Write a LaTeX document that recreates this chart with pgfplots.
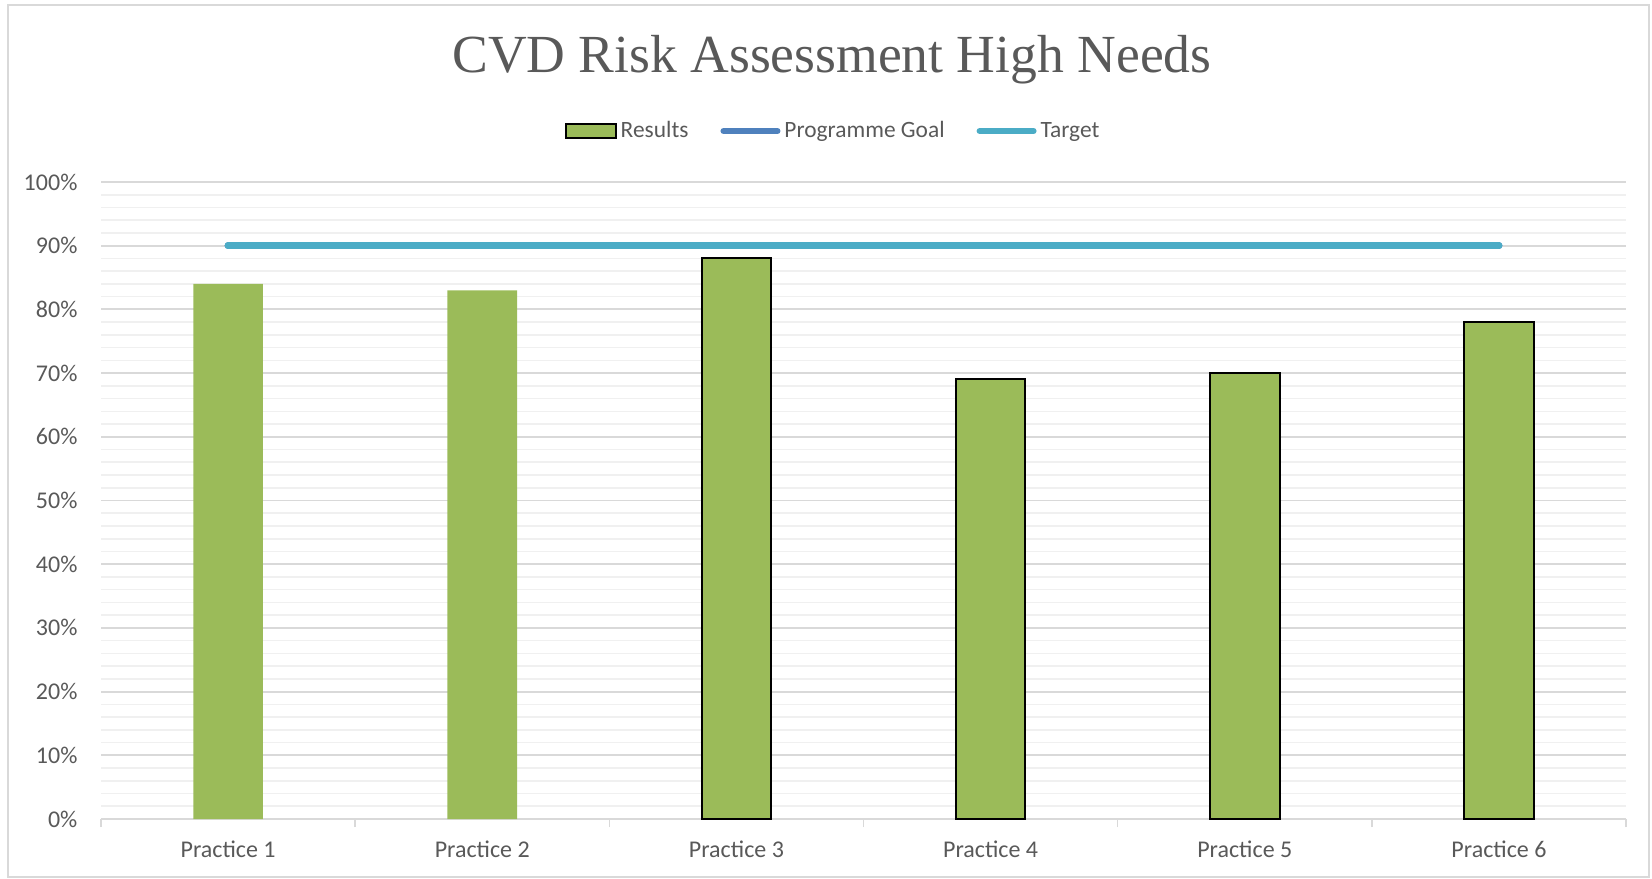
\documentclass[border=0pt]{standalone}
\usepackage{pgfplots}
\pgfplotsset{compat=1.18}
\usepackage{fontspec}
\setmainfont{Carlito}
\newfontfamily\titlefont{Liberation Serif}
\definecolor{barg}{HTML}{9BBB59}
\definecolor{txt}{HTML}{595959}
\definecolor{majg}{HTML}{D9D9D9}
\definecolor{ming}{HTML}{F0F0F0}
\definecolor{goal}{HTML}{4F81BD}
\definecolor{targ}{HTML}{4BACC6}
\begin{document}
\begin{tikzpicture}
\useasboundingbox (0,0) rectangle (826pt,439pt);
\draw[majg, line width=0.8pt] (4pt,0.4pt) rectangle (824.5pt,436.5pt);
\begin{axis}[
  at={(50.5pt,29.5pt)}, anchor=south west,
  scale only axis, width=762.5pt, height=318.5pt,
  xmin=-0.5, xmax=5.5, ymin=0, ymax=100,
  axis lines*=left,
  y axis line style={draw=none},
  x axis line style={draw=majg, line width=0.8pt},
  xtick={0,1,2,3,4,5},
  xticklabels={Practice 1,Practice 2,Practice 3,Practice 4,Practice 5,Practice 6},
  minor xtick={-0.5,0.5,1.5,2.5,3.5,4.5,5.5},
  major x tick style={draw=none},
  minor x tick style={draw=majg, line width=0.8pt},
  minor tick length=4pt,
  tick align=outside,
  ytick={0,10,...,100},
  minor ytick={2,4,...,98},
  y tick style={draw=none},
  minor y tick style={draw=none},
  ymajorgrids, yminorgrids,
  major grid style={draw=majg, line width=0.9pt},
  minor grid style={draw=ming, line width=0.8pt},
  yticklabel={\pgfmathprintnumber{\tick}\%},
  /pgf/number format/assume math mode=true,
  tick label style={font=\fontsize{12}{14}\selectfont, text=txt},
  yticklabel style={xshift=-4pt},
  xticklabel style={yshift=-3pt},
  title={\titlefont\fontsize{26.8}{30}\selectfont CVD Risk Assessment High Needs},
  title style={at={(0.4793,1.173)}, anchor=center, text=txt},
  legend style={at={(0.4807,1.080)}, anchor=center, draw=none, fill=none,
    legend columns=3, font=\fontsize{11.7}{14}\selectfont, text=txt,
    /tikz/every even column/.append style={column sep=14pt}},
  legend cell align=left,
]
\addplot[ybar, bar width=34.8pt, bar shift=0pt, fill=barg, draw=none, forget plot]
  coordinates {(0,84) (1,83)};
\addplot[ybar, bar width=34.8pt, bar shift=0pt, fill=barg, draw=black, line width=1pt,
  legend image code/.code={\draw[fill=barg, draw=black, line width=1pt] (0pt,-3.4pt) rectangle (25pt,3.4pt);}]
  coordinates {(2,88) (3,69) (4,70) (5,78)};
\addlegendentry{Results}
\addplot[goal, line width=3.5pt, line cap=round,
  legend image code/.code={\draw[goal, line width=3pt, line cap=round] (1pt,0pt) -- (28pt,0pt);}]
  coordinates {(0,90) (5,90)};
\addlegendentry{Programme Goal}
\addplot[targ, line width=3.5pt, line cap=round,
  legend image code/.code={\draw[targ, line width=3pt, line cap=round] (1pt,0pt) -- (28pt,0pt);}]
  coordinates {(0,90) (5,90)};
\addlegendentry{Target}
\end{axis}
\end{tikzpicture}
\end{document}
